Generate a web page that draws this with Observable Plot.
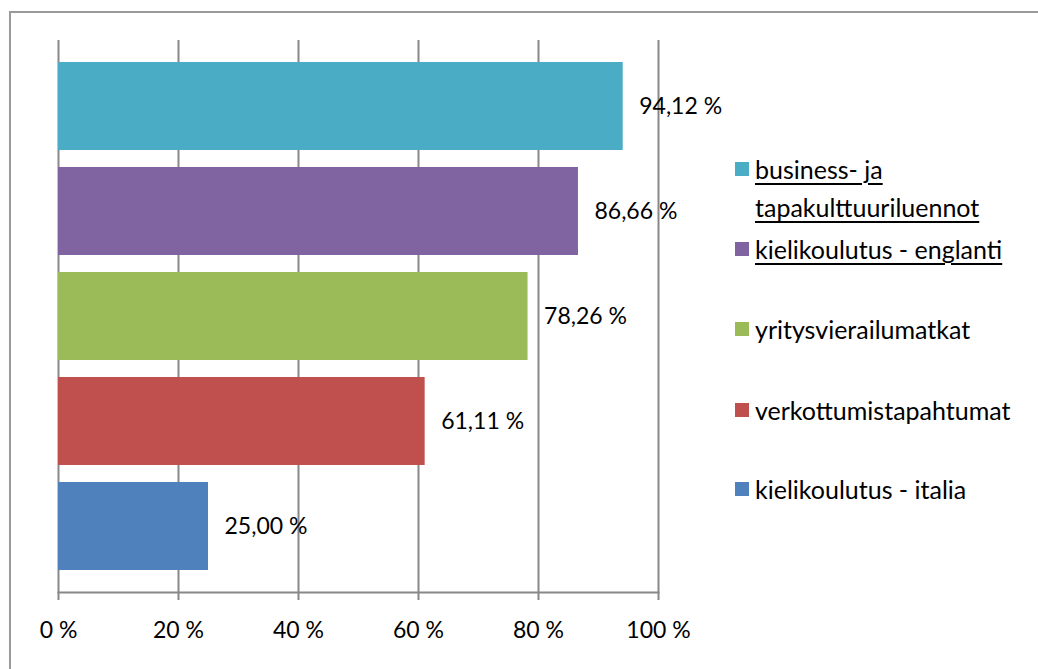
<!DOCTYPE html>
<html>
<head>
<meta charset="utf-8">
<script src="https://cdn.jsdelivr.net/npm/d3@7"></script>
<script src="https://cdn.jsdelivr.net/npm/@observablehq/plot@0.6"></script>
<style>
  body { margin: 0; background: #fff; }
  #wrap { position: relative; width: 1038px; height: 669px; overflow: hidden; font-family: Lato, "Open Sans", sans-serif; color: #000; }
  #border { position: absolute; left: 9px; top: 11px; width: 1100px; height: 700px; border-left: 2px solid #9a9a9a; border-top: 2px solid #9a9a9a; box-sizing: border-box; }
  #chart { position: absolute; left: 0; top: 0; }
  #legend { position: absolute; left: 735px; top: 0; }
  .item { position: absolute; left: 0; display: flex; align-items: flex-start; white-space: nowrap; font-size: 25px; line-height: 38px; }
  .sw { width: 14px; height: 14px; margin-top: 12px; margin-right: 6px; flex: none; }
  .u { text-decoration: underline; text-decoration-thickness: 2px; text-underline-offset: 4px; }
</style>
</head>
<body>
<div id="wrap">
  <div id="border"></div>
  <div id="chart"></div>
  <div id="legend"></div>
</div>
<script>
const categories = ["business- ja tapakulttuuriluennot", "kielikoulutus - englanti", "yritysvierailumatkat", "verkottumistapahtumat", "kielikoulutus - italia"];
const legendLines = [["business- ja", "tapakulttuuriluennot"], ["kielikoulutus - englanti"], ["yritysvierailumatkat"], ["verkottumistapahtumat"], ["kielikoulutus - italia"]];
const values = [94.12, 86.66, 78.26, 61.11, 25.00];
const colors = ["#4BACC6", "#8064A2", "#9BBB59", "#C0504D", "#4F81BD"];
const underlined = [true, true, false, false, false];
const xTicks = [0, 20, 40, 60, 80, 100];

const data = categories.map((c, i) => ({cat: c, value: values[i], color: colors[i]}));
const fmt = v => v.toFixed(2).replace(".", ",") + " %";

const chart = Plot.plot({
  width: 1038,
  height: 669,
  marginLeft: 58,
  marginRight: 380,
  marginTop: 40,
  marginBottom: 77,
  style: {fontFamily: "Lato, 'Open Sans', sans-serif", fontSize: "23px", color: "#000", background: "transparent"},
  x: {domain: [0, 100], ticks: xTicks, tickFormat: d => d + " %"},
  y: {domain: categories, paddingInner: 0.162, paddingOuter: 0.205, axis: null},
  marks: [
    Plot.axisX({ticks: xTicks, tickFormat: d => d + " %", label: null, tickSize: 8, tickPadding: 21, stroke: "#888", strokeWidth: 2, strokeOpacity: 1, fill: "#000", fontSize: 23}),
    Plot.gridX(xTicks, {stroke: "#888", strokeWidth: 2, strokeOpacity: 1}),
    Plot.frame({anchor: "bottom", stroke: "#888", strokeWidth: 2}),
    Plot.barX(data, {x: "value", y: "cat", fill: "color"}),
    Plot.text(data, {x: "value", y: "cat", text: d => fmt(d.value), textAnchor: "start", dx: 16, fill: "#000", fontSize: 23})
  ]
});
document.getElementById("chart").appendChild(chart);

const legend = document.getElementById("legend");
const centers = [169, 249, 329, 410, 489];
legendLines.forEach((lines, i) => {
  const item = document.createElement("div");
  item.className = "item";
  item.style.top = (centers[i] - 19) + "px";
  const sw = document.createElement("div");
  sw.className = "sw";
  sw.style.background = colors[i];
  const txt = document.createElement("div");
  txt.innerHTML = lines.map(l => `<span class="${underlined[i] ? "u" : ""}">${l}</span>`).join("<br>");
  item.appendChild(sw);
  item.appendChild(txt);
  legend.appendChild(item);
});
</script>
</body>
</html>
